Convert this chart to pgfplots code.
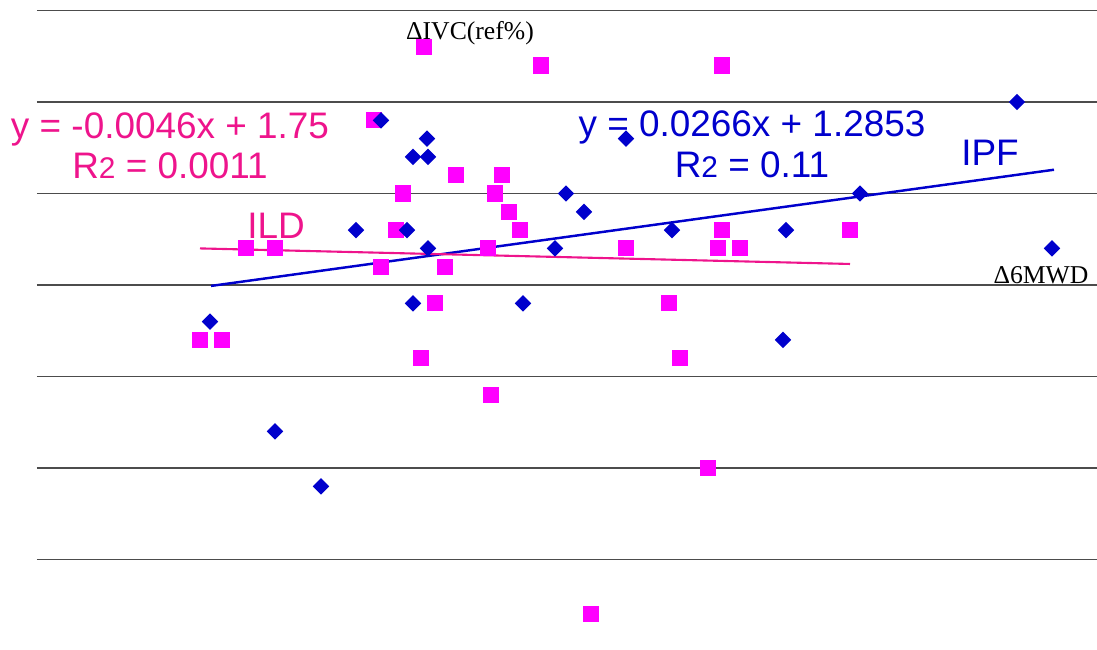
\documentclass[border=0pt]{standalone}
\usepackage{pgfplots}
\pgfplotsset{compat=1.18}
\usepackage{fontspec}
\setmainfont{Liberation Sans}
\newfontfamily\serifl{Liberation Serif}
\definecolor{ipfblue}{RGB}{0,0,204}
\definecolor{ildmag}{RGB}{255,0,255}
\definecolor{ildpink}{RGB}{238,20,140}
\newcommand{\eqfont}{\fontsize{10.5}{12}\selectfont}
\newcommand{\Rtwo}{R{\fontsize{8.5}{9}\selectfont 2}}
\begin{document}
\begin{tikzpicture}
\useasboundingbox (0,0) rectangle (10.97cm,6.5cm);
\begin{axis}[
  at={(0.37cm,0cm)}, anchor=south west,
  scale only axis, width=10.60cm, height=6.5cm,
  xmin=37, xmax=1097, ymin=-3.989, ymax=3.115,
  axis line style={draw=none},
  xtick=\empty,
  ytick={-3,-2,-1,0,1,2,3},
  ymajorticks=false,
  major tick length=0pt,
  ymajorgrids,
  grid style={black!70, line width=0.35pt},
  clip=false,
]
% text labels
\node[ildpink, font=\eqfont] at (axis cs:170,1.70) {y = -0.0046x + 1.75};
\node[ildpink, font=\eqfont] at (axis cs:170,1.30) {\Rtwo{} = 0.0011};
\node[ipfblue, font=\eqfont] at (axis cs:752,1.72) {y = 0.0266x + 1.2853};
\node[ipfblue, font=\eqfont] at (axis cs:752,1.31) {\Rtwo{} = 0.11};
\node[ildpink, font=\eqfont] at (axis cs:276,0.645) {ILD};
\node[ipfblue, font=\eqfont] at (axis cs:990,1.44) {IPF};
\node[black, font=\serifl\fontsize{7.3}{8}\selectfont] at (axis cs:470,2.75) {ΔIVC(ref\%)};
\node[black, font=\serifl\fontsize{7.3}{8}\selectfont] at (axis cs:1041,0.11) {Δ6MWD};
% ILD squares
\addplot[only marks, mark=square*, mark size=2.1pt, color=ildmag] coordinates {
(424,2.60) (541,2.40) (722,2.40) (374,1.80) (403,1.00) (456,1.20) (502,1.20)
(495,1.00) (509,0.80) (520,0.60) (396,0.60) (488,0.40) (381,0.20) (445,0.20)
(435,-0.20) (246,0.40) (275,0.40) (200,-0.60) (222,-0.60) (626,0.40)
(722,0.60) (718,0.40) (740,0.40) (850,0.60) (669,-0.20) (680,-0.80)
(421,-0.80) (491,-1.20) (708,-2.00) (591,-3.60)
};
% IPF diamonds
\addplot[only marks, mark=square*, mark size=1.45pt, mark options={rotate=45}, color=ipfblue] coordinates {
(381,1.80) (427,1.60) (413,1.40) (428,1.40) (356,0.60) (407,0.60) (428,0.40)
(413,-0.20) (523,-0.20) (566,1.00) (584,0.80) (555,0.40) (672,0.60) (626,1.60)
(786,0.60) (783,-0.60) (860,1.00) (1017,2.00) (1052,0.40) (210,-0.40)
(275,-1.60) (321,-2.20)
};
% trend lines
\addplot[ipfblue, line width=0.7pt] coordinates {(211,-0.01) (1054,1.26)};
\addplot[ildpink, line width=0.6pt] coordinates {(200,0.40) (850,0.23)};
\end{axis}
\end{tikzpicture}
\end{document}
